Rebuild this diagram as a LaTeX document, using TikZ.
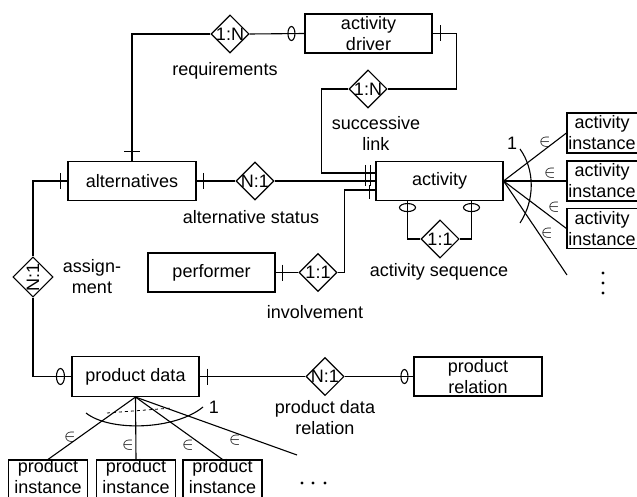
\documentclass[tikz,border=0pt]{standalone}
\usepackage{fontspec}
\setmainfont{Liberation Sans}
\usetikzlibrary{shapes.geometric,calc}
\begin{document}
\begin{tikzpicture}[x=1pt,y=-1pt,line width=1.1pt,
  txt/.style={font=\fontsize{18}{21}\selectfont},
  entity/.style={txt,draw,rectangle,inner sep=0pt,minimum width=127pt,minimum height=39pt,align=center},
  inst/.style={entity,minimum width=79pt,minimum height=40pt},
  rel/.style={txt,draw,diamond,inner sep=0pt,minimum width=38pt,minimum height=38pt},
  lbl/.style={txt,align=center,inner sep=0pt},
  elem/.style={font=\fontsize{16}{16}\selectfont,inner sep=0pt},
  opt/.style={x radius=3.5,y radius=7},
]
\useasboundingbox (0,0) rectangle (637,497);
\clip (0,0) rectangle (637,497);

% entities
\node[entity] (driver) at (368.5,33.5) {activity\\driver};
\node[entity,minimum width=128pt] (alt) at (132,181) {alternatives};
\node[entity] (act) at (439.5,181) {activity};
\node[entity] (perf) at (211.5,272.5) {performer};
\node[entity,minimum height=40pt] (pd) at (135.5,376.5) {product data};
\node[entity,minimum width=128pt] (pr) at (478,376.5) {product\\relation};

% activity instance boxes run past the right edge; their text sits left of centre
\node[inst,minimum width=78pt] (ai1) at (606,133) {};
\node[inst,minimum width=78pt] (ai2) at (606,181) {};
\node[inst,minimum width=78pt] (ai3) at (606,228.5) {};
\node[lbl] (ai1t) at ($(ai1)+(-4,0)$) {activity\\instance};
\node[lbl] (ai2t) at ($(ai2)+(-4,0)$) {activity\\instance};
\node[lbl] (ai3t) at ($(ai3)+(-4,0)$) {activity\\instance};

% product instance boxes run past the bottom edge; their text sits above centre
\node[inst] (pi1) at (48,480) {};
\node[inst] (pi2) at (136,480) {};
\node[inst] (pi3) at (222.5,480) {};
\node[lbl] (pi1t) at ($(pi1)+(0,-3)$) {product\\instance};
\node[lbl] (pi2t) at ($(pi2)+(0,-3)$) {product\\instance};
\node[lbl] (pi3t) at ($(pi3)+(0,-3)$) {product\\instance};

% relationships
\node[rel] (req) at (230,34) {\makebox[0pt]{1:N}};
\node[rel] (succ) at (368,89) {\makebox[0pt]{1:N}};
\node[rel] (altst) at (255,181) {\makebox[0pt]{N:1}};
\node[rel] (inv) at (318,272.5) {\makebox[0pt]{1:1}};
\node[rel] (seq) at (440,239) {\makebox[0pt]{1:1}};
\node[rel] (asg) at (33,277) {\rotatebox{90}{N:1}};
\node[rel] (pdr) at (325,376.5) {\makebox[0pt]{N:1}};

% relationship names
\node[lbl] (lreq) at (225,71) {requirements};
\node[lbl] (lsucc) at (376,133) {successive\\link};
\node[lbl] (lalt) at (251,217) {alternative status};
\node[lbl] (linv) at (315,312) {involvement};
\node[lbl] (lseq) at (439,272) {activity sequence};
\node[lbl] (lasg) at (92,276.5) {assign-\\ment};
\node[lbl] (lpdr) at (325,418) {product data\\relation};

% requirements
\draw (req.west) -| (alt.north);
\draw ($(alt.north)+(-8,-9)$) -- ++(16,0);
\draw (req.east) -- (driver.west);
\draw ($(driver.west)+(-13,0)$) ellipse [opt];

% successive link
\coordinate (dr) at ($(driver.east)+(24,0)$);
\coordinate (a1) at ($(act.west)+(0,-8)$);
\coordinate (a2) at (act.west);
\coordinate (a3) at ($(act.west)+(0,9)$);
\draw (driver.east) -- (dr) |- (succ.east);
\draw ($(driver.east)+(8,-8)$) -- ++(0,16);
\draw (succ.west) -| ($(a1)+(-54,0)$) -- (a1);

% alternative status
\draw (alt.east) -- (altst.west);
\draw ($(alt.east)+(7,-8)$) -- ++(0,16);
\draw (altst.east) -- (a2);

% involvement
\draw (perf.east) -- (inv.west);
\draw ($(perf.east)+(7,-8)$) -- ++(0,16);
\draw (inv.east) -- ++(7,0) |- (a3);

% cardinality bars at the activity box
\draw ($(act.west)+(-10,-16)$) -- ++(0,21);
\draw ($(act.west)+(-5,-16)$) -- ++(0,21);
\draw ($(act.west)+(-6,4)$) -- ++(0,14);

% activity sequence
\draw ($(act.south)+(-32,0)$) |- (seq.west);
\draw ($(act.south)+(32,0)$) |- (seq.east);
\draw ($(act.south)+(-32,6.5)$) ellipse [x radius=8,y radius=4];
\draw ($(act.south)+(32,6.5)$) ellipse [x radius=8,y radius=4];

% assignment
\draw (alt.west) -| (asg.north);
\draw ($(alt.west)+(-7,-8)$) -- ++(0,16);
\draw (asg.south) |- (pd.west);
\draw ($(pd.west)+(-11,0)$) ellipse [x radius=4,y radius=8];

% product data relation
\draw (pd.east) -- (pdr.west);
\draw ($(pd.east)+(8,-8)$) -- ++(0,16);
\draw (pdr.east) -- (pr.west);
\draw ($(pr.west)+(-9,0)$) ellipse [opt];

% activity instances
\coordinate (afree) at (567,275);
\draw (act.east) -- (ai1.west);
\draw (act.east) -- (ai2.west);
\draw (act.east) -- (ai3.west);
\draw (act.east) -- (afree);
\draw (520,149) .. controls (535,170) and (535,200) .. (520,223);
\node[elem] at (512,143) {\fontsize{18}{18}\selectfont 1};
\node[elem] at (545,142) {$\in$};
\node[elem] at (550,173) {$\in$};
\node[elem] at (554,207) {$\in$};
\node[elem] at (547,233) {$\in$};
\foreach \yy in {273,283,293} \fill (603,\yy) circle (1.6);

% product instances
\coordinate (pfree) at (297,455);
\draw (pd.south) -- (pi1.north);
\draw (pd.south) -- (pi2.north);
\draw (pd.south) -- (pi3.north);
\draw (pd.south) -- (pfree);
\draw (86,413) .. controls (110,432) and (175,430) .. (203,407);
\draw[dashed,line width=0.8pt] (107,413) -- (172,408);
\node[elem] at (214,407) {\fontsize{18}{18}\selectfont 1};
\node[elem] at (70,437) {$\in$};
\node[elem] at (128,445) {$\in$};
\node[elem] at (188,445) {$\in$};
\node[elem] at (235,440) {$\in$};
\foreach \xx in {302,313,325} \fill (\xx,483) circle (1.6);
\end{tikzpicture}
\end{document}
